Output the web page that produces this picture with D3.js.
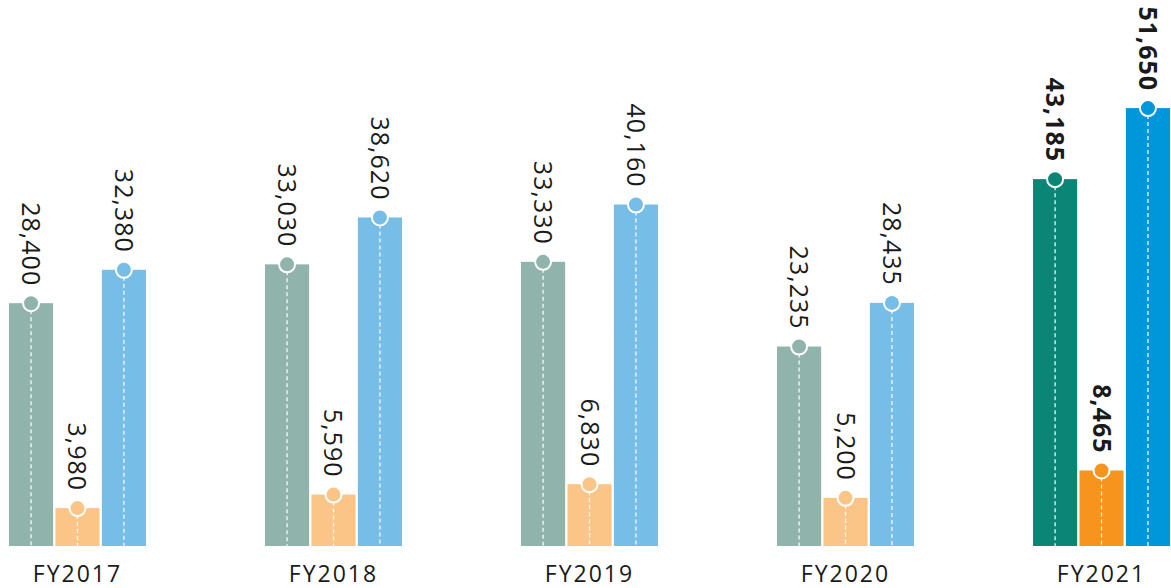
<!DOCTYPE html>
<html>
<head>
<meta charset="utf-8">
<script src="https://cdn.jsdelivr.net/npm/d3@7"></script>
<style>
  html, body { margin: 0; padding: 0; background: #fff; }
  svg { display: block; }
</style>
</head>
<body>
<svg class="chart" width="1171" height="588"></svg>
<script>
const years = ['FY2017', 'FY2018', 'FY2019', 'FY2020', 'FY2021']
const seriesA = [28400, 33030, 33330, 23235, 43185]
const seriesB = [3980, 5590, 6830, 5200, 8465]
const seriesC = [32380, 38620, 40160, 28435, 51650]

const lightColors = ['#90b3ac', '#fcc588', '#76bde8']
const darkColors = ['#0a8576', '#f7941d', '#0096da']

let svg = d3.select('.chart'),
  baseY = 546

let x0 = d3.scaleBand()
  .domain(years)
  .range([9, 1170])
  .paddingInner(0.465)
  .paddingOuter(0)

let x1 = d3.scaleBand()
  .domain([0, 1, 2])
  .range([0, x0.bandwidth()])
  .paddingInner(0.05)

// bars start a little below the value zero
let y = d3.scaleLinear()
  .domain([0, 60000])
  .range([541.5, 541.5 - 60000 * 0.008391])

let rows = years.map((yr, i) => ({
  year: yr,
  last: i === years.length - 1,
  values: [seriesA[i], seriesB[i], seriesC[i]]
}))

let group = svg.selectAll('.grp')
  .data(rows)
  .enter().append('g')
  .attr('class', 'grp')
  .attr('transform', d => 'translate(' + x0(d.year) + ',0)')

let bar = group.selectAll('.bar')
  .data(d => d.values.map((v, k) => ({ v: v, k: k, last: d.last })))
  .enter().append('g')
  .attr('class', 'bar')

bar.append('rect')
  .attr('x', d => x1(d.k))
  .attr('width', x1.bandwidth())
  .attr('y', d => y(d.v))
  .attr('height', d => baseY - y(d.v))
  .attr('fill', d => (d.last ? darkColors : lightColors)[d.k])

bar.append('line')
  .attr('x1', d => x1(d.k) + x1.bandwidth() / 2)
  .attr('x2', d => x1(d.k) + x1.bandwidth() / 2)
  .attr('y1', d => y(d.v))
  .attr('y2', baseY)
  .attr('stroke', '#fff')
  .attr('stroke-width', 1.2)
  .attr('stroke-dasharray', '4,3')

bar.append('circle')
  .attr('cx', d => x1(d.k) + x1.bandwidth() / 2)
  .attr('cy', d => y(d.v))
  .attr('r', 8)
  .attr('fill', d => (d.last ? darkColors : lightColors)[d.k])
  .attr('stroke', '#fff')
  .attr('stroke-width', 2)

bar.append('text')
  .attr('transform', d => 'translate(' + (x1(d.k) + x1.bandwidth() / 2) + ',' + (y(d.v) - 17) + ') rotate(90)')
  .attr('text-anchor', 'end')
  .attr('dy', '0.36em')
  .style('font-family', '"Open Sans", sans-serif')
  .style('font-size', '25px')
  .style('letter-spacing', '1px')
  .style('font-weight', d => d.last ? 700 : 400)
  .attr('fill', '#1a1a1a')
  .text(d => d3.format(',')(d.v))

group.append('text')
  .attr('x', x0.bandwidth() / 2)
  .attr('y', 582)
  .attr('text-anchor', 'middle')
  .style('font-family', '"Open Sans", sans-serif')
  .style('font-size', '23px')
  .style('letter-spacing', '2px')
  .attr('fill', '#1a1a1a')
  .text(d => d.year)
</script>
</body>
</html>
